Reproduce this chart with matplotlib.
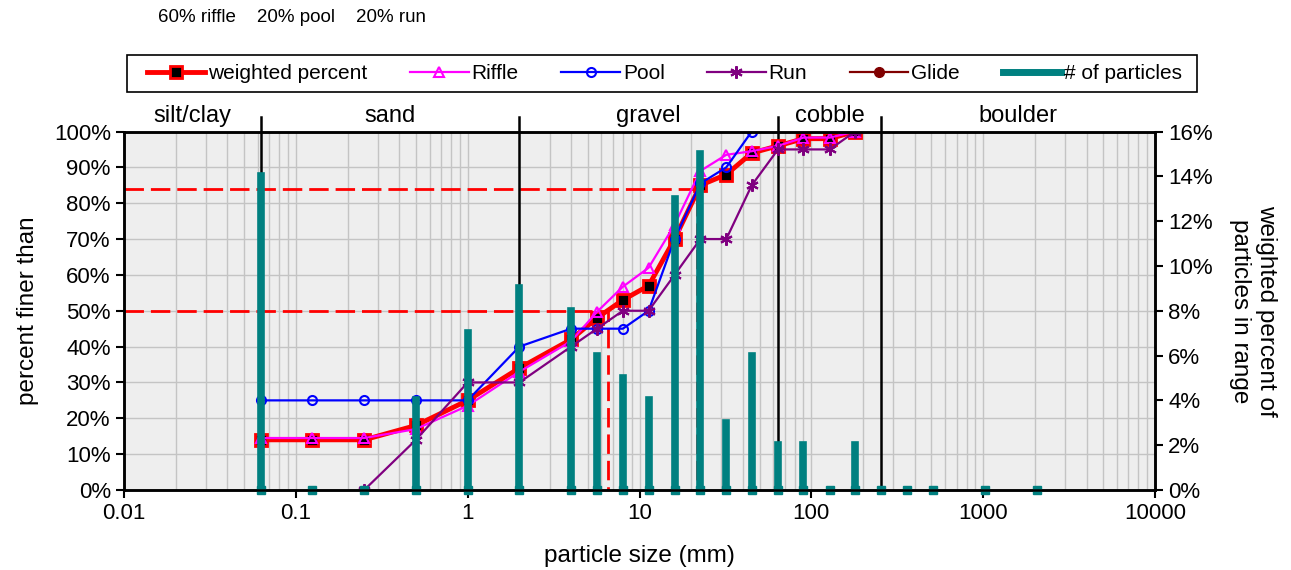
import matplotlib.pyplot as plt
from matplotlib.lines import Line2D
from matplotlib.patches import Rectangle
from matplotlib.ticker import FixedLocator, FuncFormatter, LogLocator, NullFormatter

plt.rcParams['font.family'] = ['Liberation Sans', 'DejaVu Sans']

# sieve classes (mm)
sizes = [0.0625, 0.125, 0.25, 0.5, 1, 2, 4, 5.66, 8, 11.3, 16, 22.6, 32, 45,
         64, 90, 128, 180, 256, 362, 512, 1024, 2048]

# cumulative percent finer
weighted = [14, 14, 14, 18, 25, 34, 42, 48, 53, 57, 70, 85, 88, 94, 96, 98, 98, 100]
riffle = [14.5, 14.5, 14.5, 17, 23.5, 33, 41.5, 49.7, 56.7, 62, 74, 89, 93.5, 94.5,
          96, 98.3, 98.3, 100]
pool = [25, 25, 25, 25, 25, 40, 45, 45, 45, 50, 70, 85.5, 90, 100]
run = [0, 14, 30, 30, 40, 45, 50, 50, 60, 70, 70, 85, 95, 95, 95, 100]

# weighted percent of particles in each size class
particles = [14, 0, 0, 4, 7, 9, 8, 6, 5, 4, 13, 15, 3, 6, 2, 2, 0, 2, 0, 0, 0, 0, 0]

d50, d84 = 6.6, 21.6

class_edges = [0.0625, 2, 64, 256]
class_names = ['silt/clay', 'sand', 'gravel', 'cobble', 'boulder']
class_centers = [0.025, 0.354, 11.3, 128, 1600]

fig = plt.figure(figsize=(12.91, 5.70), dpi=100)
ax = fig.add_axes([124 / 1291, 1 - 490 / 570, 1031 / 1291, 358.5 / 570])
ax.set_facecolor('#EEEEEE')
ax.set_xscale('log')
ax.set_xlim(0.01, 10000)
ax.set_ylim(0, 100)

ax.xaxis.set_major_locator(FixedLocator([0.01, 0.1, 1, 10, 100, 1000, 10000]))
ax.xaxis.set_minor_locator(LogLocator(base=10, subs=range(2, 10), numticks=20))
ax.xaxis.set_major_formatter(FuncFormatter(lambda v, p: f'{v:g}'))
ax.xaxis.set_minor_formatter(NullFormatter())
ax.yaxis.set_major_locator(FixedLocator(range(0, 101, 10)))
ax.yaxis.set_major_formatter(FuncFormatter(lambda v, p: f'{v:.0f}%'))
ax.grid(which='both', axis='x', color='#C4C4C4', lw=1)
ax.grid(which='major', axis='y', color='#C4C4C4', lw=1)
ax.set_axisbelow(True)
ax.tick_params(which='major', direction='out', length=6, width=1.5, labelsize=16)
ax.tick_params(which='minor', length=0)
for s in ax.spines.values():
    s.set_linewidth(1.8)
    s.set_color('black')

# D50 / D84 guides
ax.plot([0.01, d84, d84], [84, 84, 0], color='red', lw=2, ls=(0, (7, 2.5)))
ax.plot([0.01, d50, d50], [50, 50, 0], color='red', lw=2, ls=(0, (7, 2.5)))

# size class boundaries and names
for e in class_edges:
    ax.plot([e, e], [0, 1.04], transform=ax.get_xaxis_transform(),
            color='black', lw=1.8, clip_on=False)
for c, name in zip(class_centers, class_names):
    ax.text(c, 1.042, name, transform=ax.get_xaxis_transform(),
            ha='center', va='center', fontsize=17)

h_w, = ax.plot(sizes[:18], weighted, color='red', lw=3.5, marker='s', ms=9,
               mfc='black', mec='red', mew=2)
h_r, = ax.plot(sizes[:18], riffle, color='#FF00FF', lw=1.6, marker='^', ms=7.5,
               mfc='none', mec='#FF00FF', mew=1.5)
h_p, = ax.plot(sizes[:14], pool, color='blue', lw=1.6, marker='o', ms=6.5,
               mfc='none', mec='blue', mew=1.5)
h_run, = ax.plot(sizes[2:18], run, color='#800080', lw=1.6, marker=(6, 2, 0),
                 ms=9, mec='#800080', mew=1.5)
h_g = Line2D([], [], color='#800000', lw=1.6, marker='o', ms=7)

ax2 = ax.twinx()
ax2.set_ylim(0, 16)
ax2.vlines(sizes, 0, particles, color='#008080', lw=5.5, capstyle='projecting')
# little stubs so empty classes still show, as in the original
ax2.plot(sizes, [0] * len(sizes), ls='none', marker='s', ms=5.5,
         color='#008080', clip_on=False)
ax2.yaxis.set_major_locator(FixedLocator(range(0, 17, 2)))
ax2.yaxis.set_major_formatter(FuncFormatter(lambda v, p: f'{v:.0f}%'))
ax2.tick_params(direction='out', length=6, width=1.5, labelsize=16)
for s in ax2.spines.values():
    s.set_linewidth(1.8)
h_n = Line2D([], [], color='#008080', lw=5)

ax.set_xlabel('particle size (mm)', fontsize=17.5, labelpad=15)
ax.set_ylabel('percent finer than', fontsize=17.5, labelpad=11)
ax2.set_ylabel('weighted percent of\nparticles in range', fontsize=17.5,
               rotation=270, va='bottom', labelpad=12)

fig.text(158 / 1291, 1 - 18 / 570, '60% riffle    20% pool    20% run',
         fontsize=13.5, va='center')

# legend: frame drawn separately so side padding can differ from top/bottom
fig.patches.append(Rectangle((127 / 1291, 1 - 92 / 570), 1070 / 1291, 37 / 570,
                             transform=fig.transFigure, facecolor='white',
                             edgecolor='black', lw=1.2))
fig.legend([h_w, h_r, h_p, h_run, h_g, h_n],
           ['weighted percent', 'Riffle', 'Pool', 'Run', 'Glide', '# of particles'],
           loc='center', bbox_to_anchor=(147 / 1291, 1 - 92 / 570, 1035 / 1291, 37 / 570),
           mode='expand', ncol=6, fontsize=15, frameon=False,
           handlelength=2.8, handletextpad=0.15, borderaxespad=0, borderpad=0)

fig.savefig('out.png', dpi=100)
